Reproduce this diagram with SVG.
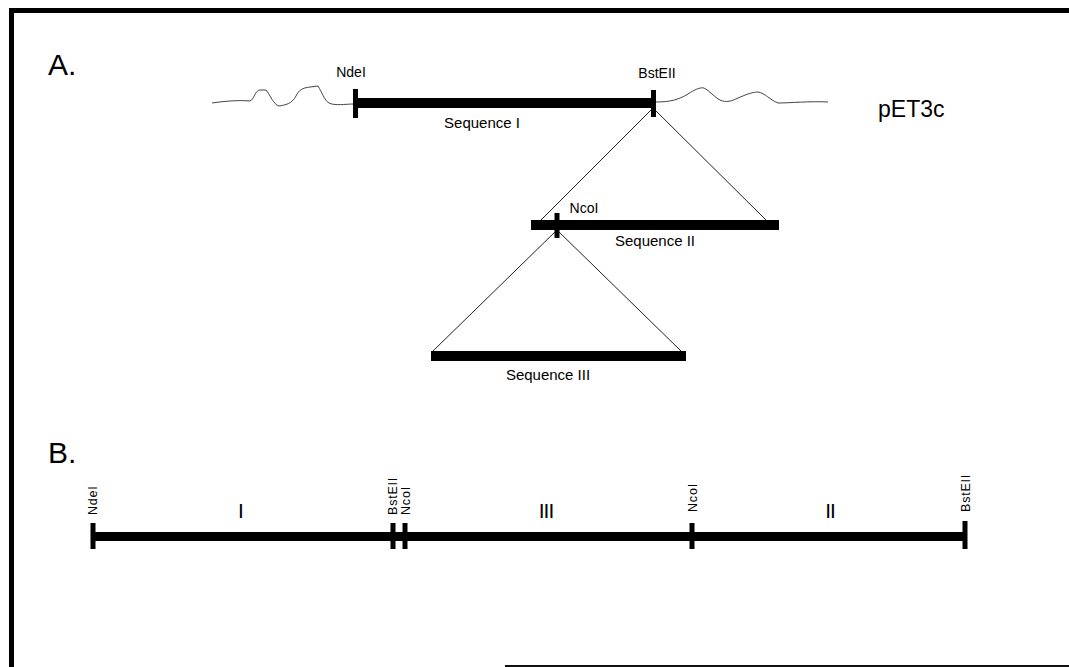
<svg xmlns="http://www.w3.org/2000/svg" width="1069" height="667" viewBox="0 0 1069 667">
<style>
text{font-family:"Liberation Sans",Arial,sans-serif;fill:#000}
.bar{fill:#000}
.tick{stroke:#000;stroke-width:5}
.wave{fill:none;stroke:#444;stroke-width:1}
.conn{stroke:#222;stroke-width:1;fill:none}
.site{font-size:14px}
.seq{font-size:15px}
.vlab{font-size:12.5px;letter-spacing:0.8px}
.big{font-size:30px}
.roman{font-size:21px}
</style>
<rect width="1069" height="667" fill="#fff"/>
<g id="frame">
<rect x="9" y="8" width="1060" height="5" fill="#000"/>
<rect x="9" y="8" width="5" height="659" fill="#000"/>
<rect x="505" y="665" width="564" height="2" fill="#111"/>
</g>
<text x="48" y="75" class="big">A.</text>
<text x="48" y="463" class="big">B.</text>
<g id="connectors">
<line class="conn" x1="653" y1="108" x2="540" y2="221"/>
<line class="conn" x1="653" y1="108" x2="767" y2="221"/>
<line class="conn" x1="557" y1="230" x2="433" y2="351"/>
<line class="conn" x1="557" y1="230" x2="681" y2="351"/>
</g>
<g id="pET3c">
<path class="wave" d="M212,103 C225,101 240,100 250,101 C254,100 255,90 260,90 L266,90 C270,95 274,105 279,106 C285,105 292,104 296,96 C299,90 302,88 310,87 L318,86 C322,92 324,100 329,103 C335,106 345,104 354,104"/>
<path class="wave" d="M655,102 C670,102 678,100 688,94 C694,90 700,87 704,88 C710,91 714,97 720,100 C726,103 732,101 738,98 C745,95 752,92 758,92 C765,93 770,100 778,103 C790,103 810,101 828,102"/>
<text x="878" y="117" font-size="23">pET3c</text>
</g>
<g id="seq1">
<rect class="bar" x="355" y="98" width="298" height="10"/>
<line class="tick" x1="355.5" y1="89" x2="355.5" y2="118"/>
<line class="tick" x1="653.5" y1="90" x2="653.5" y2="117"/>
<text x="351" y="77" class="site" text-anchor="middle">NdeI</text>
<text x="657" y="78" class="site" text-anchor="middle">BstEII</text>
<text x="482" y="128" class="seq" text-anchor="middle">Sequence I</text>
</g>
<g id="seq2">
<rect class="bar" x="531" y="220" width="248" height="10"/>
<line class="tick" x1="557" y1="213" x2="557" y2="238"/>
<text x="584" y="213" class="site" text-anchor="middle">NcoI</text>
<text x="655" y="246" class="seq" text-anchor="middle">Sequence II</text>
</g>
<g id="seq3">
<rect class="bar" x="431" y="351" width="255" height="10"/>
<text x="548" y="380" class="seq" text-anchor="middle">Sequence III</text>
</g>
<g id="construct">
<rect class="bar" x="92" y="532" width="873" height="9"/>
<line class="tick" x1="93" y1="523" x2="93" y2="549"/>
<line class="tick" x1="393" y1="523" x2="393" y2="549"/>
<line class="tick" x1="405" y1="523" x2="405" y2="549"/>
<line class="tick" x1="692" y1="523" x2="692" y2="549"/>
<line class="tick" x1="965" y1="521" x2="965" y2="549"/>
<text transform="translate(97,515) rotate(-90)" class="vlab">NdeI</text>
<text transform="translate(397,515) rotate(-90)" class="vlab">BstEII</text>
<text transform="translate(410,515) rotate(-90)" class="vlab">NcoI</text>
<text transform="translate(697,512) rotate(-90)" class="vlab">NcoI</text>
<text transform="translate(970,512) rotate(-90)" class="vlab">BstEII</text>
<text x="241" y="518" class="roman" text-anchor="middle">I</text>
<text x="546" y="518" class="roman" text-anchor="middle" letter-spacing="-1">III</text>
<text x="830" y="518" class="roman" text-anchor="middle" letter-spacing="-1">II</text>
</g>
</svg>
